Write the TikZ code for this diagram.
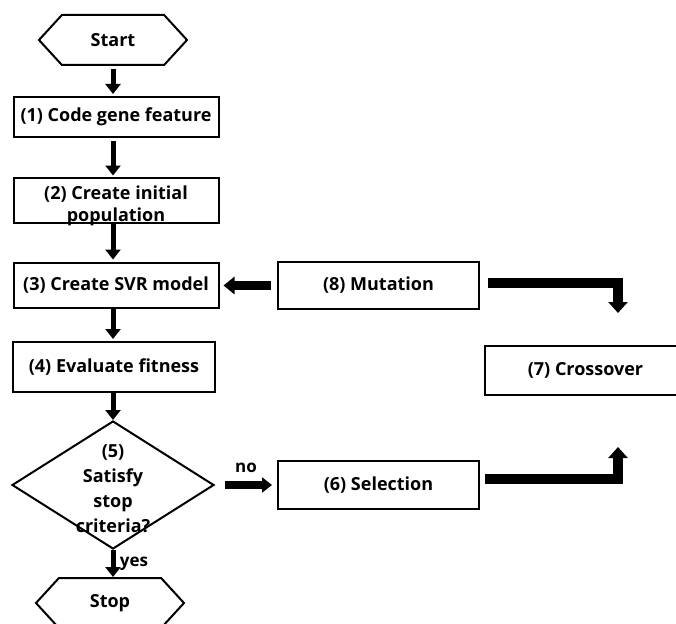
\documentclass[tikz,border=0pt]{standalone}
\usepackage{fontspec}
\setmainfont{Open Sans}
\usepackage{tikz}
\usetikzlibrary{arrows.meta, shapes.geometric, shapes.symbols}
\tikzstyle{box} = [draw, line width=2pt, rectangle, minimum width=205pt, minimum height=45pt, inner sep=0pt]
\tikzstyle{term} = [draw, line width=2pt, signal, signal to=west and east, signal pointer angle=95, minimum width=148pt, minimum height=50pt, inner sep=0pt]
\tikzstyle{decision} = [draw, line width=2pt, diamond, minimum width=202pt, minimum height=128pt, inner sep=0pt]
\tikzstyle{arrow} = [line width=5pt, -{Triangle[width=15pt,length=10pt]}]
\tikzstyle{bigarrow} = [line width=10pt, -{Triangle[width=19pt,length=11pt]}]
\tikzset{every node/.style={font=\fontsize{18}{22}\selectfont\bfseries}}

\begin{document}
\begin{tikzpicture}[x=1pt, y=-1pt]
    \useasboundingbox (0,0) rectangle (676,623);
    % Draw the main column
    \node[term] (start) at (113,40) {Start};
    \node[box, minimum height=40pt] (code) at (116,117) {(1) Code gene feature};
    \node[box, label={[align=center, yshift=-6pt]center:(2) Create initial\\population}] (init) at (116,200) {};
    \node[box] (svr) at (116,285) {(3) Create SVR model};
    \node[box, minimum width=202pt, minimum height=50pt] (eval) at (114,367) {(4) Evaluate fitness};
    \node[decision, label={[align=center, yshift=-4pt, font=\fontsize{18}{25}\selectfont\bfseries]center:(5)\\Satisfy\\stop\\criteria?}] (dia) at (113,485) {};
    \node[term] (stop) at (110,603) {Stop};

    % Draw the genetic operators
    \node[box, minimum width=201pt, minimum height=47pt] (mut) at (378.5,285.5) {(8) Mutation};
    \node[box, minimum width=201pt, minimum height=49pt] (cross) at (585.5,370.5) {(7) Crossover};
    \node[box, minimum width=201pt, minimum height=48pt] (sel) at (378.5,485) {(6) Selection};
    \coordinate (mtip) at (618,313);
    \coordinate (stip) at (618,447);

    % Draw the arrows of the column
    \draw[arrow, shorten <=3pt, shorten >=2pt] (start.south) -- (start.south |- code.north);
    \draw[arrow, shorten <=3pt, shorten >=1pt] (code.south -| start.south) -- (init.north -| start.south);
    \draw[arrow, shorten >=2pt] (init.south -| start.south) -- (svr.north -| start.south);
    \draw[arrow, shorten >=2pt] (svr.south -| start.south) -- (eval.north -| start.south);
    \draw[arrow] (eval.south -| start.south) -- (dia.north);
    \draw[arrow] (dia.south) -- (dia.south |- stop.north) node[midway, right, xshift=1pt, font=\fontsize{17}{20}\selectfont\bfseries] {yes};

    % Draw the loop
    \draw[arrow, line width=8pt, -{Triangle[width=15pt,length=10pt]}, shorten <=10pt, shorten >=5pt] (dia.east) -- (sel.west) node[midway, yshift=17pt, font=\fontsize{17}{20}\selectfont\bfseries] {no};
    \draw[bigarrow] ([xshift=5pt, yshift=6pt]sel.east) -| (stip);
    \draw[bigarrow] ([xshift=8pt, yshift=3pt]mut.east) -| (mtip);
    \draw[bigarrow, line width=9pt, -{Triangle[width=17pt,length=11pt]}, shorten <=6pt, shorten >=4pt] (mut.west) -- (mut.west -| svr.east);
\end{tikzpicture}
\end{document}
